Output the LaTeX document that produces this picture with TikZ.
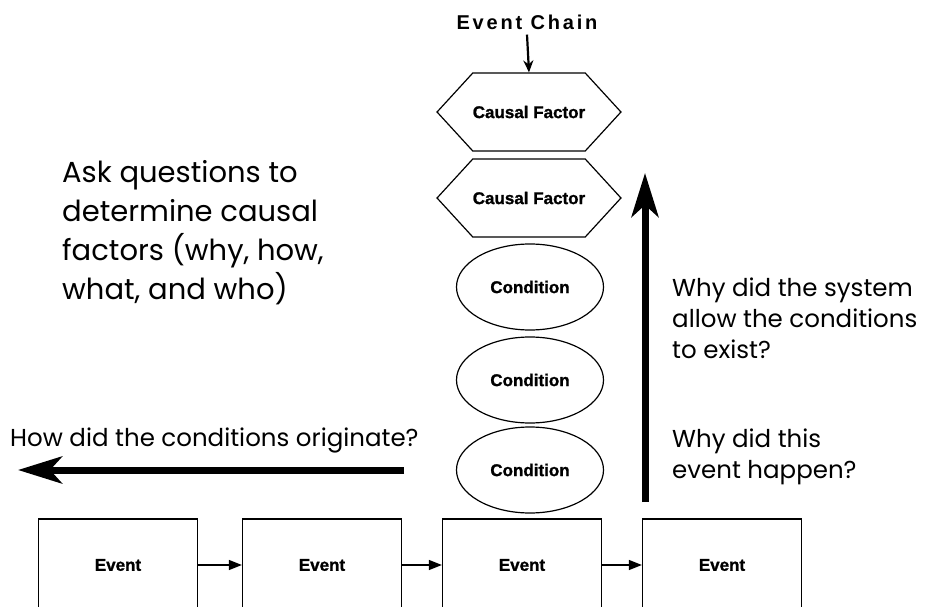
\documentclass[tikz,border=0pt]{standalone}
\usepackage{fontspec}
\setmainfont{Poppins}
\newfontfamily\labelfont[BoldFeatures={FakeBold=1.2}]{Liberation Sans}
\newfontfamily\chainfont[LetterSpace=14]{Liberation Sans}
\usetikzlibrary{shapes.geometric,shapes.symbols,arrows.meta}

\begin{document}
\begin{tikzpicture}[x=1pt,y=-1pt,
  boxtext/.style={font=\labelfont\bfseries\fontsize{17pt}{20pt}\selectfont},
  evtbox/.style={draw, line width=1.2pt, minimum width=159pt, minimum height=92pt,
    inner sep=0pt, boxtext},
  condbox/.style={draw, ellipse, line width=1.2pt, minimum width=147pt,
    minimum height=86pt, inner sep=0pt, boxtext},
  factorbox/.style={draw, signal, signal to=west and east, signal pointer angle=95,
    line width=1.2pt, minimum width=152pt, minimum height=78pt, inner sep=0pt, boxtext},
  link/.style={line width=1.3pt, -{Triangle[length=13pt,width=10pt]}},
  feed/.style={line width=2.2pt, -{Stealth[length=12pt,width=10pt]}},
  bigarrow/.style={line width=7pt, -{Stealth[length=44pt,width=27pt,inset=12pt]}},
  question/.style={font=\fontsize{24.5pt}{31pt}\selectfont, align=left, inner sep=0pt},
  prompt/.style={font=\fontsize{29pt}{39pt}\selectfont, align=left, inner sep=0pt}
]
\useasboundingbox (0,0) rectangle (927,607);
\clip (0,0) rectangle (927,607);

% chain heading and its causal factors / conditions
\node[font=\chainfont\bfseries\fontsize{20pt}{24pt}\selectfont, inner sep=0pt] (chain) at (527,22) {Event Chain};
\node[factorbox] (cf1) at (529,112) {Causal Factor};
\node[factorbox] (cf2) at (529,198) {Causal Factor};
\node[condbox] (c1) at (530,287) {Condition};
\node[condbox] (c2) at (530,380) {Condition};
\node[condbox] (c3) at (530,470) {Condition};
\draw[feed] ([yshift=-5pt]chain.south) -- (cf1.north);

% sequence of events along the bottom
\node[evtbox] (e1) at (118,565) {Event};
\node[evtbox] (e2) at (322,565) {Event};
\node[evtbox] (e3) at (522,565) {Event};
\node[evtbox] (e4) at (722,565) {Event};
\draw[link] (e1) -- (e2);
\draw[link] (e2) -- (e3);
\draw[link] (e3) -- (e4);

% direction arrows
\coordinate (backfrom) at (404,470);
\coordinate (backto) at (18,470);
\coordinate (upfrom) at (645,502);
\coordinate (upto) at (645,173);
\draw[bigarrow] (backfrom) -- (backto);
\draw[bigarrow] (upfrom) -- (upto);

% questions (base anchor sits on the last line)
\node[prompt, anchor=base west] (ask) at (62,299)
  {Ask questions to\\determine causal\\factors (why, how,\\what, and who)};
\node[question, anchor=base west] (how) at (10,446) {How did the conditions originate?};
\node[question, anchor=base west] (whysys) at (672,358)
  {Why did the system\\allow the conditions\\to exist?};
\node[question, anchor=base west] (whyevt) at (672,478)
  {Why did this\\event happen?};
\end{tikzpicture}
\end{document}
